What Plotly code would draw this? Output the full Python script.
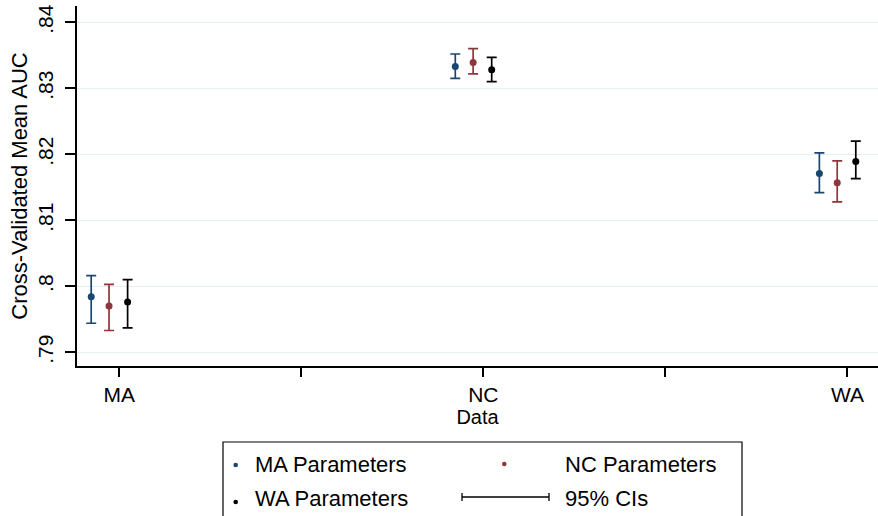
import plotly.graph_objects as go

# Cross-validated mean AUC by data set, for parameters estimated on each region
datasets = ["MA", "NC", "WA"]
series_names = ["MA Parameters", "NC Parameters", "WA Parameters"]
series_colors = ["#1a476f", "#90353b", "#000000"]

ma_mean = [0.7984, 0.8333, 0.8171]
ma_low = [0.7944, 0.8315, 0.8142]
ma_high = [0.8016, 0.8352, 0.8202]

nc_mean = [0.7970, 0.8339, 0.8157]
nc_low = [0.7933, 0.8322, 0.8128]
nc_high = [0.8003, 0.8360, 0.8190]

wa_mean = [0.7976, 0.8328, 0.8189]
wa_low = [0.7937, 0.8310, 0.8163]
wa_high = [0.8010, 0.8347, 0.8220]

y_ticks = [0.79, 0.80, 0.81, 0.82, 0.83, 0.84]
y_tick_text = [".79", ".8", ".81", ".82", ".83", ".84"]

# horizontal dodge of the three parameter sets within each data group
offsets = [-0.077, -0.028, 0.023]

W, H = 878, 516
L, R, T, B = 77, 0, 6, 150
FONT = "Liberation Sans, Arial, sans-serif"

fig = go.Figure()
means = [ma_mean, nc_mean, wa_mean]
lows = [ma_low, nc_low, wa_low]
highs = [ma_high, nc_high, wa_high]
for name, color, off, m, lo, hi in zip(series_names, series_colors, offsets, means, lows, highs):
    fig.add_trace(go.Scatter(
        x=[i + off for i in range(len(datasets))],
        y=m,
        mode="markers",
        name=name,
        marker=dict(color=color, size=7),
        error_y=dict(
            type="data",
            symmetric=False,
            array=[h - v for h, v in zip(hi, m)],
            arrayminus=[v - l for v, l in zip(m, lo)],
            color=color,
            thickness=1.7,
            width=5,
        ),
        showlegend=False,
    ))

fig.update_layout(
    width=W, height=H,
    margin=dict(l=L, r=R, t=T, b=B, autoexpand=False),
    paper_bgcolor="white",
    plot_bgcolor="white",
    font=dict(family=FONT, color="black", size=20),
    showlegend=False,
)

fig.update_xaxes(
    range=[-0.116, 2.084],
    tickvals=[0, 0.5, 1, 1.5, 2],
    ticktext=["MA", "", "NC", "", "WA"],
    ticks="outside", ticklen=9, tickwidth=1.5, tickcolor="black",
    showline=True, linecolor="black", linewidth=1.5,
    showgrid=False, zeroline=False,
    tickfont=dict(size=21),
    title=dict(text="Data", font=dict(size=20), standoff=1),
)
fig.update_yaxes(
    range=[0.78792, 0.84247],
    tickvals=y_ticks,
    ticktext=y_tick_text,
    tickangle=-90,
    ticks="outside", ticklen=10, tickwidth=1.5, tickcolor="black",
    ticklabelstandoff=4,
    showline=True, linecolor="black", linewidth=1.5,
    showgrid=True, gridcolor="#e6eef0", gridwidth=1,
    zeroline=False,
    tickfont=dict(size=21),
    title=dict(text="Cross-Validated Mean AUC", font=dict(size=22), standoff=0),
)

# legend box drawn in pixel terms, converted to paper coordinates
PW, PH = W - L - R, H - T - B


def px(x):
    return (x - L) / PW


def py(y):
    return (H - B - y) / PH


fig.add_shape(type="rect", xref="paper", yref="paper",
              x0=px(223), x1=px(742), y0=py(442), y1=py(530),
              line=dict(color="black", width=1.2), fillcolor="white")

legend_items = [
    (235.7, 465.0, series_colors[0], 253, 464, series_names[0]),
    (504.3, 464.0, series_colors[1], 563, 464, series_names[1]),
    (235.7, 502.0, series_colors[2], 253, 498, series_names[2]),
]
for dx, dy, col, tx, ty, label in legend_items:
    r = 2.3
    fig.add_shape(type="circle", xref="paper", yref="paper",
                  x0=px(dx - r), x1=px(dx + r), y0=py(dy + r), y1=py(dy - r),
                  line=dict(color=col, width=0), fillcolor=col)
    fig.add_annotation(xref="paper", yref="paper", x=px(tx), y=py(ty),
                       text=label, showarrow=False, xanchor="left", yanchor="middle",
                       font=dict(size=22, color="black"))

# confidence-interval key
ci_y = 497
fig.add_shape(type="line", xref="paper", yref="paper",
              x0=px(462), x1=px(549), y0=py(ci_y), y1=py(ci_y),
              line=dict(color="black", width=1.3))
for cx in (462, 549):
    fig.add_shape(type="line", xref="paper", yref="paper",
                  x0=px(cx), x1=px(cx), y0=py(ci_y - 4), y1=py(ci_y + 4),
                  line=dict(color="black", width=1.3))
fig.add_annotation(xref="paper", yref="paper", x=px(563), y=py(498),
                   text="95% CIs", showarrow=False, xanchor="left", yanchor="middle",
                   font=dict(size=22, color="black"))

fig.write_html("out.html")
